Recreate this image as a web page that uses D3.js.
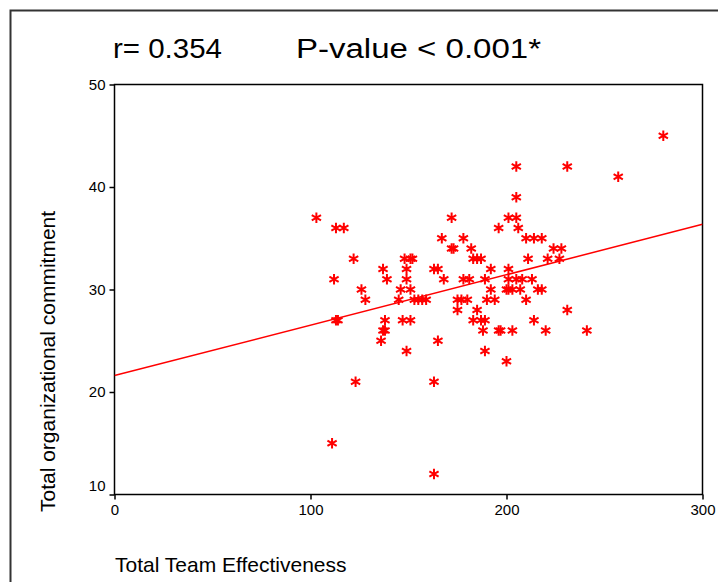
<!DOCTYPE html>
<html>
<head>
<meta charset="utf-8">
<script src="https://cdn.jsdelivr.net/npm/d3@7"></script>
<style>
  html, body { margin: 0; padding: 0; background: #fff; }
  svg { display: block; }
  text { font-family: "Liberation Sans", Arial, sans-serif; fill: #000; }
</style>
</head>
<body>
<svg id="chart" width="718" height="582"></svg>
<script>
// ---- data ----
const teamEffectiveness = [
  280,
  205, 231,
  257,
  205,
  103, 172, 201, 205,
  113, 117, 196, 206,
  167, 178, 210, 214, 218,
  172, 173, 182, 224, 228,
  122, 148, 151, 152, 183, 185, 187, 211, 221, 227,
  137, 149, 163, 165, 192, 201,
  112, 139, 149, 168, 178, 181, 189, 201, 205, 208, 213,
  126, 146, 151, 192, 200, 201, 203, 207, 216, 218,
  128, 145, 153, 155, 157, 159, 175, 177, 180, 190, 194, 210,
  175, 185, 231,
  113, 114, 138, 147, 151, 183, 187, 189, 214,
  137, 138, 188, 196, 197, 203, 220, 241,
  136, 165,
  149, 189,
  200,
  123, 163,
  111,
  163
];
const orgCommitment = [
  45,
  42, 42,
  41,
  39,
  37, 37, 37, 37,
  36, 36, 36, 36,
  35, 35, 35, 35, 35,
  34, 34, 34, 34, 34,
  33, 33, 33, 33, 33, 33, 33, 33, 33, 33,
  32, 32, 32, 32, 32, 32,
  31, 31, 31, 31, 31, 31, 31, 31, 31, 31, 31,
  30, 30, 30, 30, 30, 30, 30, 30, 30, 30,
  29, 29, 29, 29, 29, 29, 29, 29, 29, 29, 29, 29,
  28, 28, 28,
  27, 27, 27, 27, 27, 27, 27, 27, 27,
  26, 26, 26, 26, 26, 26, 26, 26,
  25, 25,
  24, 24,
  23,
  21, 21,
  15,
  12
];
const xTicks = [0, 100, 200, 300];
const yTicks = [10, 20, 30, 40, 50];
const fitIntercept = 21.6;
const fitSlope = 0.0492;
const titleR = "r= 0.354";
const titleP = "P-value < 0.001*";
const xTitle = "Total Team Effectiveness";
const yTitle = "Total organizational commitment";

// ---- drawing ----
const svg = d3.select("#chart");
const pLeft = 114.5, pRight = 702.5, pTop = 84.5, pBottom = 494.5;

const x = d3.scaleLinear().domain([0, 300]).range([pLeft, pRight]);
const y = d3.scaleLinear().domain([10, 50]).range([pBottom, pTop]);

// outer frame (top + left)
svg.append("path")
  .attr("d", `M10.5,582 L10.5,10.5 L718,10.5`)
  .attr("fill", "none").attr("stroke", "#333").attr("stroke-width", 2);

// titles
svg.append("text").attr("x", 113).attr("y", 58)
  .attr("textLength", 109).attr("lengthAdjust", "spacingAndGlyphs")
  .style("font-size", "27px").text(titleR);
svg.append("text").attr("x", 296).attr("y", 58)
  .attr("textLength", 245).attr("lengthAdjust", "spacingAndGlyphs")
  .style("font-size", "27px").text(titleP);

// plot box
svg.append("rect")
  .attr("x", pLeft).attr("y", pTop)
  .attr("width", pRight - pLeft).attr("height", pBottom - pTop)
  .attr("fill", "none").attr("stroke", "#000").attr("stroke-width", 1.5);

// axes
const xAxis = d3.axisBottom(x).tickValues(xTicks).tickSize(5).tickSizeOuter(0);
const gx = svg.append("g").attr("transform", `translate(0,${pBottom})`).call(xAxis);
gx.select(".domain").remove();
gx.selectAll("line").attr("stroke", "#000").attr("stroke-width", 1.5);
gx.selectAll("text").style("font-size", "15px").attr("dy", "0.85em")
  .style("font-family", "'Liberation Sans', Arial, sans-serif");

const yAxis = d3.axisLeft(y).tickValues(yTicks).tickSize(5).tickSizeOuter(0);
const gy = svg.append("g").attr("transform", `translate(${pLeft},0)`).call(yAxis);
gy.select(".domain").remove();
gy.selectAll("line").attr("stroke", "#000").attr("stroke-width", 1.5);
gy.selectAll("text").style("font-size", "15px").attr("x", -9)
  .attr("y", d => d === yTicks[0] ? -9 : 0)
  .style("font-family", "'Liberation Sans', Arial, sans-serif");

// axis titles
svg.append("text").attr("x", 115).attr("y", 572)
  .style("font-size", "21px").text(xTitle);
svg.append("text")
  .attr("transform", `translate(55,512) rotate(-90)`)
  .attr("text-anchor", "start")
  .style("font-size", "21px").text(yTitle);

// clip
svg.append("clipPath").attr("id", "plotclip")
  .append("rect").attr("x", pLeft).attr("y", pTop)
  .attr("width", pRight - pLeft).attr("height", pBottom - pTop);

// regression line
svg.append("line")
  .attr("clip-path", "url(#plotclip)")
  .attr("x1", x(0)).attr("y1", y(fitIntercept))
  .attr("x2", x(300)).attr("y2", y(fitIntercept + fitSlope * 300))
  .attr("stroke", "#ff0000").attr("stroke-width", 1.5);

// points
const pts = teamEffectiveness.map((v, i) => [v, orgCommitment[i]]);
const sym = d3.symbol().type(d3.symbolAsterisk).size(80);
svg.append("g").selectAll("path").data(pts).join("path")
  .attr("transform", d => `translate(${x(d[0])},${y(d[1])})`)
  .attr("d", sym)
  .attr("fill", "none").attr("stroke", "#ff0000").attr("stroke-width", 2);
</script>
</body>
</html>
